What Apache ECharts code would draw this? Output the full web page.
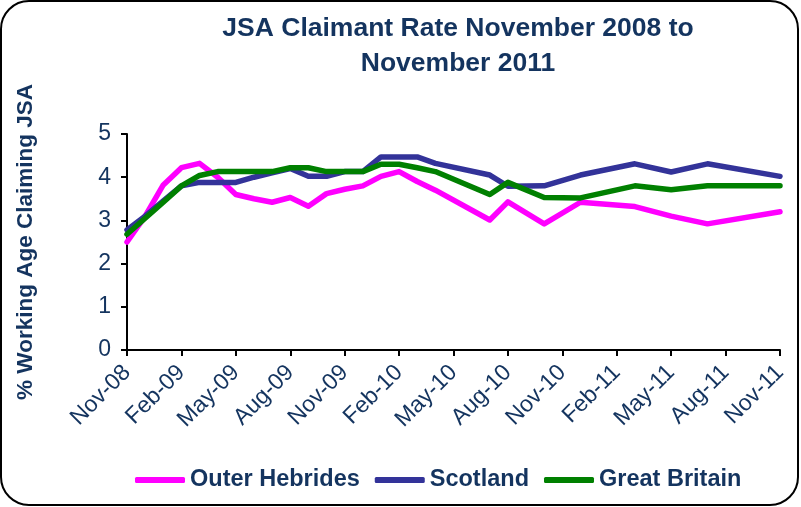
<!DOCTYPE html>
<html>
<head>
<meta charset="utf-8">
<script src="https://cdn.jsdelivr.net/npm/echarts@6/dist/echarts.min.js"></script>
<style>
html,body{margin:0;padding:0;background:#fff;}
#chart{width:801px;height:507px;}
</style>
</head>
<body>
<div id="chart"></div>
<script>
var months = ["Nov-08","Dec-08","Jan-09","Feb-09","Mar-09","Apr-09","May-09","Jun-09","Jul-09","Aug-09","Sep-09","Oct-09",
  "Nov-09","Dec-09","Jan-10","Feb-10","Mar-10","Apr-10","May-10","Jun-10","Jul-10","Aug-10","Sep-10","Oct-10",
  "Nov-10","Dec-10","Jan-11","Feb-11","Mar-11","Apr-11","May-11","Jun-11","Jul-11","Aug-11","Sep-11","Oct-11","Nov-11"];
var seriesNames = ["Outer Hebrides","Scotland","Great Britain"];
var outerHebrides = [2.5,3.1,3.82,4.22,4.32,4.0,3.6,3.5,3.42,3.53,3.33,3.62,
  3.72,3.8,4.02,4.13,3.9,3.7,null,null,3.01,3.43,null,2.92,
  null,3.42,null,null,3.32,null,3.1,null,2.92,null,null,null,3.2];
var scotland = [2.78,3.1,3.45,3.8,3.88,3.88,3.88,4.0,4.1,4.2,4.02,4.02,
  4.13,4.13,4.47,4.47,4.47,4.32,null,null,4.05,3.79,null,3.8,
  null,4.05,null,null,4.31,null,4.12,null,4.31,null,null,null,4.02];
var greatBritain = [2.68,3.05,3.42,3.8,4.04,4.13,4.13,4.13,4.13,4.22,4.22,4.13,
  4.13,4.13,4.3,4.3,4.22,4.13,null,null,3.6,3.88,null,3.53,
  null,3.52,null,null,3.8,null,3.71,null,3.8,null,null,null,3.8];
var yTicks = [0,1,2,3,4,5];

var navy = "#14345F";
var font = "Liberation Sans, Arial, sans-serif";
var colors = ["#FF00FF","#333399","#008000"];
var chart = echarts.init(document.getElementById("chart"), null, {renderer:"canvas"});
var dataSets = [outerHebrides, scotland, greatBritain];
chart.setOption({
  animation:false,
  backgroundColor:"#fff",
  color:colors,
  title:{
    text:"JSA Claimant Rate November 2008 to\nNovember 2011",
    left:453, top:6, textAlign:"center",
    textStyle:{fontFamily:font, fontSize:26.5, fontWeight:"bold", color:navy, lineHeight:35}
  },
  legend:{
    left:130, top:463,
    itemWidth:50, itemHeight:6, itemGap:15,
    icon:"roundRect",
    textStyle:{fontFamily:font, fontSize:23.5, fontWeight:"bold", color:navy},
    data:seriesNames
  },
  graphic:[{
    type:"rect", silent:true, z:100,
    shape:{x:1, y:1, width:797, height:504, r:28},
    style:{fill:"none", stroke:"#000", lineWidth:2}
  }],
  grid:{left:127, right:21, top:134, bottom:157, containLabel:false},
  xAxis:{
    type:"category", data:months, boundaryGap:false,
    axisLine:{lineStyle:{color:"#000", width:2}},
    axisTick:{interval:2, length:6, lineStyle:{color:"#000", width:2}},
    axisLabel:{interval:2, rotate:45, margin:19, color:navy, fontSize:23,
      fontFamily:font},
    splitLine:{show:false}
  },
  yAxis:{
    type:"value", min:yTicks[0], max:yTicks[yTicks.length-1], interval:1,
    name:"% Working Age Claiming JSA", nameLocation:"middle", nameGap:90,
    nameTextStyle:{fontFamily:font, fontSize:22.5, fontWeight:"bold", color:navy},
    axisLine:{show:true, lineStyle:{color:"#000", width:2}},
    axisTick:{show:true, length:6, lineStyle:{color:"#000", width:2}},
    axisLabel:{margin:16, color:navy, fontSize:23, fontFamily:font},
    splitLine:{show:false}
  },
  series:seriesNames.map(function(n,i){
    return {
      name:n, type:"line", data:dataSets[i], connectNulls:true,
      showSymbol:false, symbol:"none",
      lineStyle:{width:5.5, color:colors[i], cap:"round", join:"round"},
      itemStyle:{color:colors[i]}
    };
  })
});
</script>
</body>
</html>
